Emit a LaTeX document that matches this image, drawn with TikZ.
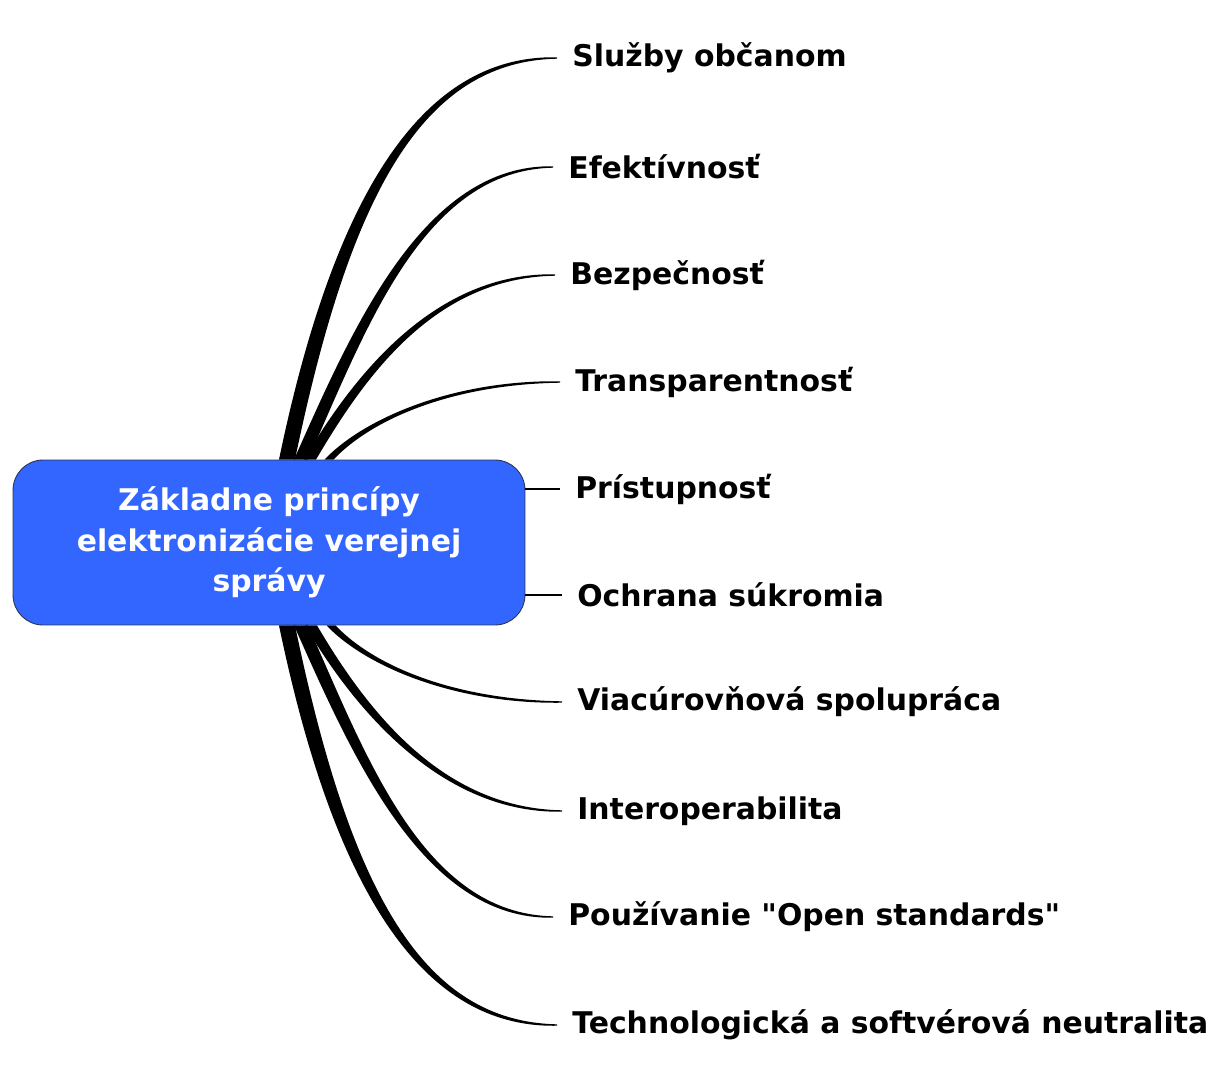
\documentclass[tikz,border=0pt]{standalone}
\usepackage{fontspec}
\setmainfont{DejaVu Sans}
\usetikzlibrary{calc,backgrounds}
\definecolor{hubBlue}{HTML}{3366FF}
\definecolor{hubEdge}{HTML}{2A3550}

% one tapered branch: hub anchor, x shift, leaf, first control, pull at leaf, half width, side (-1 up, 1 down)
\newcommand\twig[8]{%
  \fill[twig] ($(hub.#1)+(#2-#7,0)$) .. controls +(#4,#5) and +(-#6,0.35*#7*#8) .. ($(#3.west)+(0,0.7*#8)$)
    -- ($(#3.west)+(0,-0.7*#8)$) .. controls +(-#6,-0.35*#7*#8) and +(#4,#5) .. ($(hub.#1)+(#2+#7,0)$) -- cycle;}

\begin{document}
\begin{tikzpicture}[x=0.02cm, y=-0.02cm,
  hubbox/.style={rectangle, rounded corners=0.6cm, draw=hubEdge, line width=0.5pt, fill=hubBlue,
    minimum width=10.24cm, minimum height=3.3cm, align=center, text=white,
    font=\bfseries\fontsize{17}{23}\selectfont},
  leaf/.style={anchor=west, inner xsep=0.3cm, inner ysep=0pt, font=\bfseries\fontsize{17}{20}\selectfont},
  twig/.style={black},
  stub/.style={line width=1.2pt, black}
]
\useasboundingbox (0,0) rectangle (1227,1072);

\node[hubbox] (hub) at (269,542.5) {Základne princípy\\elektronizácie verejnej\\správy};

\node[leaf] (sluzby) at (557,58) {Služby občanom};
\node[leaf] (efekt) at (553,167) {Efektívnosť};
\node[leaf] (bezp) at (555,275) {Bezpečnosť};
\node[leaf] (transp) at (560,382) {Transparentnosť};
\node[leaf] (pristup) at (560,489) {Prístupnosť};
\node[leaf] (sukrom) at (562,595) {Ochrana súkromia};
\node[leaf] (viac) at (562,702) {Viacúrovňová spolupráca};
\node[leaf] (interop) at (562,811) {Interoperabilita};
\node[leaf] (open) at (553,917) {Používanie \textquotedbl Open standards\textquotedbl};
\node[leaf] (neutral) at (557,1025) {Technologická a softvérová neutralita};

\begin{scope}[on background layer]
  \twig{north}{18}{sluzby}{55}{-265}{135}{8}{-1}
  \twig{north}{32}{efekt}{58}{-130}{130}{7}{-1}
  \twig{north}{41}{bezp}{50}{-85}{120}{6}{-1}
  \twig{north}{60}{transp}{40}{-42}{105}{4.5}{-1}
  \twig{south}{62}{viac}{40}{42}{105}{4.5}{1}
  \twig{south}{42}{interop}{50}{85}{120}{6}{1}
  \twig{south}{32}{open}{58}{130}{130}{7}{1}
  \twig{south}{18}{neutral}{55}{265}{135}{8}{1}
\end{scope}
\draw[stub] (hub.east |- pristup.west) -- (pristup.west);
\draw[stub] (hub.east |- sukrom.west) -- (sukrom.west);
\end{tikzpicture}
\end{document}
